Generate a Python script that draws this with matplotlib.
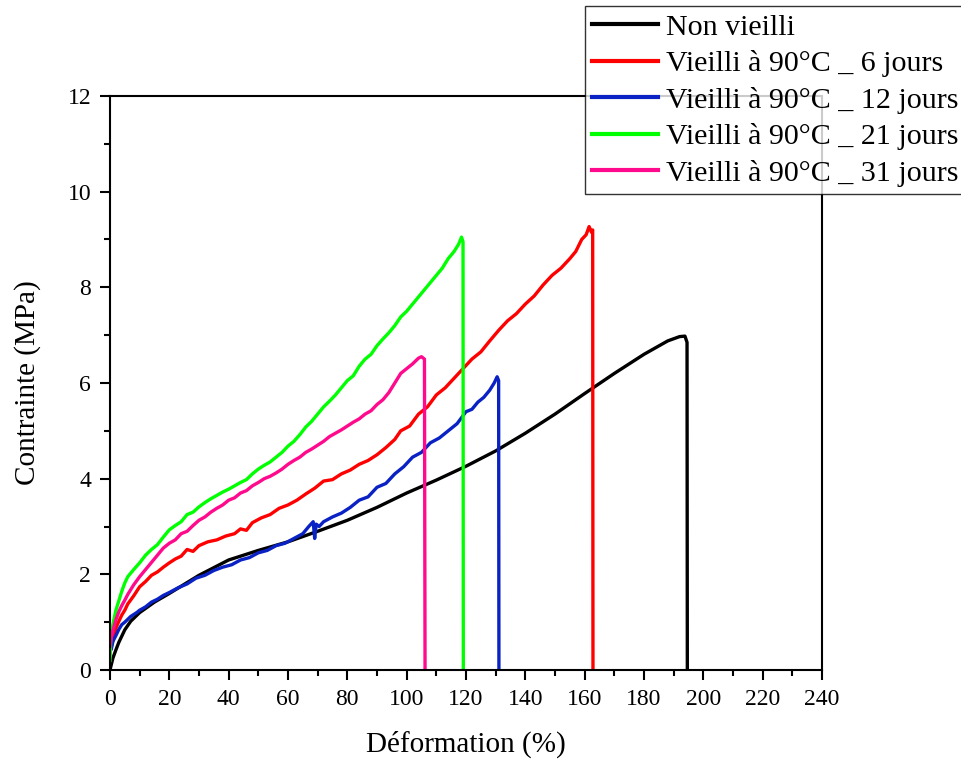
import matplotlib
matplotlib.use('Agg')
import matplotlib.pyplot as plt
from matplotlib.ticker import MultipleLocator

plt.rcParams['font.family'] = ['Liberation Serif', 'DejaVu Serif']

# (déformation %, contrainte MPa)
non_vieilli = [(0, 0), (1, 0.25), (2, 0.42), (3, 0.58), (5, 0.84), (7, 1.02), (10, 1.2),
               (15, 1.42), (20, 1.6), (30, 1.98), (40, 2.3), (50, 2.5), (60, 2.68),
               (70, 2.9), (80, 3.13), (90, 3.4), (100, 3.7), (110, 3.97), (120, 4.26),
               (130, 4.58), (140, 4.95), (150, 5.35), (160, 5.78), (170, 6.2), (180, 6.6),
               (188, 6.88), (192, 6.97), (193.8, 6.98), (194.5, 6.85), (194.6, 0)]

j6 = [(0, 0.35), (0.5, 0.5), (1, 0.62), (2, 0.88), (3, 1.02), (4, 1.15), (5, 1.25),
      (6, 1.38), (8, 1.55), (10, 1.74), (12, 1.85), (14, 1.98), (16, 2.05), (18, 2.15),
      (20, 2.24), (22, 2.32), (24, 2.38), (26, 2.52), (28, 2.48), (30, 2.6), (33, 2.68),
      (36, 2.72), (39, 2.8), (42, 2.85), (44, 2.95), (46, 2.92), (48, 3.08), (51, 3.18),
      (54, 3.25), (57, 3.38), (60, 3.45), (63, 3.55), (66, 3.68), (69, 3.8), (72, 3.95),
      (75, 3.98), (78, 4.1), (81, 4.18), (84, 4.3), (87, 4.38), (90, 4.5), (93, 4.65),
      (96, 4.82), (98, 5.0), (101, 5.1), (104, 5.35), (107, 5.5), (110, 5.75),
      (113, 5.9), (116, 6.1), (119, 6.3), (122, 6.5), (125, 6.65), (128, 6.88),
      (131, 7.1), (134, 7.3), (137, 7.45), (140, 7.65), (143, 7.82), (146, 8.05),
      (149, 8.25), (152, 8.4), (155, 8.6), (157, 8.75), (159, 9.0), (160.5, 9.1),
      (161.5, 9.27), (162.3, 9.15), (162.7, 9.2), (162.8, 0)]

j12 = [(0.5, 0.45), (1, 0.6), (2, 0.72), (3, 0.85), (4, 0.95), (5, 1.0), (7, 1.12),
       (9, 1.2), (10, 1.25), (12, 1.32), (14, 1.42), (16, 1.48), (18, 1.56), (20, 1.62),
       (23, 1.72), (26, 1.8), (29, 1.92), (32, 1.98), (35, 2.08), (38, 2.15), (41, 2.2),
       (44, 2.3), (47, 2.35), (50, 2.45), (53, 2.5), (56, 2.6), (59, 2.65), (62, 2.75),
       (65, 2.85), (67, 3.0), (68.5, 3.1), (69, 2.75), (69.5, 3.05), (70.5, 3.0),
       (72, 3.1), (75, 3.2), (78, 3.28), (81, 3.4), (84, 3.55), (87, 3.62), (90, 3.82),
       (93, 3.9), (96, 4.1), (99, 4.25), (102, 4.45), (105, 4.55), (108, 4.75),
       (111, 4.85), (114, 5.0), (117, 5.15), (120, 5.4), (122, 5.45), (124, 5.6),
       (126, 5.7), (128, 5.85), (129.5, 6.0), (130.5, 6.13), (131, 6.05), (131.1, 0)]

j21 = [(0, 0.2), (0.3, 0.7), (1, 0.95), (2, 1.25), (3, 1.45), (4, 1.65), (5, 1.82),
       (6, 1.95), (8, 2.1), (10, 2.24), (12, 2.4), (14, 2.52), (16, 2.62), (18, 2.78),
       (20, 2.93), (22, 3.02), (24, 3.1), (26, 3.25), (28, 3.3), (30, 3.41), (32, 3.5),
       (34, 3.58), (36, 3.65), (38, 3.72), (40, 3.78), (42, 3.85), (44, 3.92), (46, 3.98),
       (48, 4.1), (50, 4.2), (52, 4.28), (54, 4.35), (56, 4.45), (58, 4.55), (60, 4.68),
       (62, 4.78), (64, 4.92), (66, 5.08), (68, 5.2), (70, 5.35), (72, 5.5), (74, 5.62),
       (76, 5.75), (78, 5.9), (80, 6.05), (82, 6.15), (84, 6.35), (86, 6.5), (88, 6.6),
       (90, 6.78), (92, 6.92), (94, 7.05), (96, 7.2), (98, 7.38), (100, 7.5),
       (102, 7.65), (104, 7.8), (106, 7.95), (108, 8.1), (110, 8.25), (112, 8.4),
       (114, 8.6), (116, 8.75), (117.5, 8.9), (118.5, 9.05), (119, 8.95), (119.1, 0)]

j31 = [(0, 0.5), (0.5, 0.7), (1, 0.82), (2, 1.05), (3, 1.22), (4, 1.35), (5, 1.46),
       (6, 1.58), (8, 1.78), (10, 1.95), (12, 2.1), (14, 2.25), (16, 2.4), (18, 2.55),
       (20, 2.65), (22, 2.72), (24, 2.85), (26, 2.9), (28, 3.02), (30, 3.13), (32, 3.2),
       (34, 3.3), (36, 3.38), (38, 3.45), (40, 3.55), (42, 3.6), (44, 3.7), (46, 3.75),
       (48, 3.85), (50, 3.92), (52, 4.0), (54, 4.05), (56, 4.12), (58, 4.2), (60, 4.3),
       (62, 4.38), (64, 4.45), (66, 4.55), (68, 4.62), (70, 4.7), (72, 4.78), (74, 4.88),
       (76, 4.95), (78, 5.02), (80, 5.1), (82, 5.18), (84, 5.25), (86, 5.35), (88, 5.42),
       (90, 5.55), (92, 5.65), (94, 5.8), (96, 6.0), (98, 6.2), (100, 6.3), (102, 6.4),
       (104, 6.52), (105, 6.55), (106, 6.5), (106.2, 0)]

series = [
    (non_vieilli, 'Non vieilli', 'black'),
    (j6, 'Vieilli à 90°C _ 6 jours', '#ff0000'),
    (j12, 'Vieilli à 90°C _ 12 jours', '#0a22c4'),
    (j21, 'Vieilli à 90°C _ 21 jours', '#00ff00'),
    (j31, 'Vieilli à 90°C _ 31 jours', '#ff0a8c'),
]

fig = plt.figure(figsize=(9.62, 7.6), dpi=100)
ax = fig.add_axes([0.1143, 0.1184, 0.7402, 0.7553])

for data, label, color in series:
    x, y = zip(*data)
    ax.plot(x, y, color=color, lw=2.4, label=label, solid_joinstyle='round')

ax.set_xlim(0, 240)
ax.set_ylim(0, 12)
ax.xaxis.set_major_locator(MultipleLocator(20))
ax.xaxis.set_minor_locator(MultipleLocator(10))
ax.yaxis.set_major_locator(MultipleLocator(2))
ax.yaxis.set_minor_locator(MultipleLocator(1))
ax.tick_params(which='both', direction='out', width=1.5, labelsize=17, pad=6)
ax.tick_params(which='major', length=7.5)
ax.tick_params(which='minor', length=4)
for s in ax.spines.values():
    s.set_linewidth(1.5)

ax.set_xlabel('Déformation (%)', fontsize=21, labelpad=15)
ax.set_ylabel('Contrainte (MPa)', fontsize=21, labelpad=19)

leg = fig.legend(loc='upper right', bbox_to_anchor=(1.004, 0.992), fontsize=21.6,
                 frameon=True, fancybox=False, edgecolor='black', handlelength=2.2,
                 handletextpad=0.25, labelspacing=0.32, borderpad=0.25,
                 borderaxespad=0)
leg.get_frame().set_linewidth(1.0)
for h in leg.get_lines():
    h.set_linewidth(3)

fig.savefig('out.png', dpi=100)
